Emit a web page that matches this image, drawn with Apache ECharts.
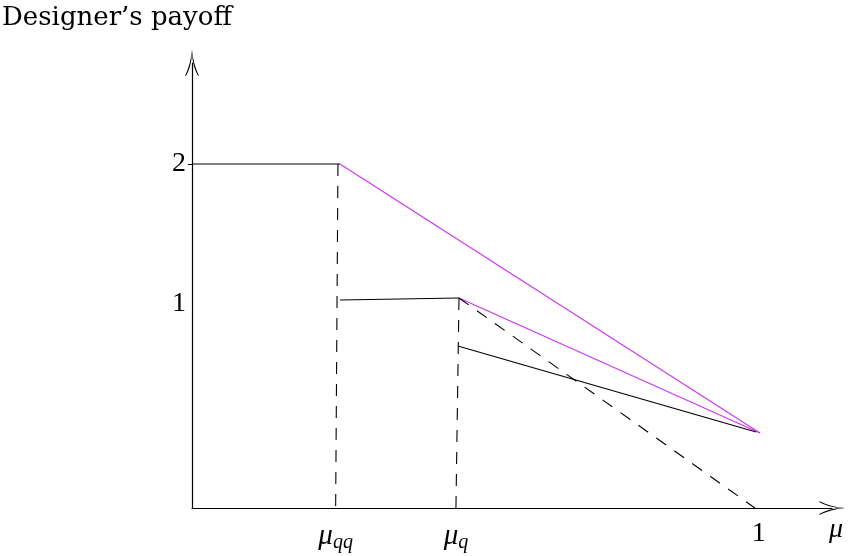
<!DOCTYPE html>
<html>
<head>
<meta charset="utf-8">
<script src="https://cdn.jsdelivr.net/npm/echarts@6/dist/echarts.min.js"></script>
<style>
  html, body { margin: 0; padding: 0; background: #fff; }
  #chart { width: 849px; height: 556px; }
</style>
</head>
<body>
<div id="chart"></div>
<script>
// segments of the payoff picture, [mu, payoff]
const topFlat = [[0, 2], [0.261, 2]];
const magentaHigh = [[0.261, 2], [1.002, 0.436]];
const midFlat = [[0.261, 1.209], [0.471, 1.221]];
const magentaLow = [[0.471, 1.221], [1.002, 0.436]];
const lowerSolid = [[0.469, 0.942], [0.995, 0.442]];
const dashQQ = [[0.2575, 2], [0.2534, 0]];
const dashQ = [[0.471, 1.221], [0.4656, 0]];
const dashDiag = [[0.471, 1.221], [0.993, 0]];

// tick labels
const xTickValues = [0.2534, 0.4656, 1];
const xTickLabels = ['{m|μ}{s|qq}', '{m|μ}{s|q}', '1'];
const yTickValues = [1.19, 2];
const yTickLabels = ['1', '2'];

const serif = 'Liberation Serif';
const magenta = '#cc33ee';

const chart = echarts.init(document.getElementById('chart'));

// open arrow head (curved wings), tip pointing up
const arrowHead = 'path://M0 0 Q1.5 15 7 26 L6.2 26.5 Q0.6 17 0 3 Q-0.6 17 -6.2 26.5 L-7 26 Q-1.5 15 0 0 Z';

function seg(data, color, dashed) {
  return {
    type: 'line',
    data: data,
    symbol: 'none',
    silent: true,
    lineStyle: {
      color: color,
      width: 1.1,
      type: dashed ? [12, 10] : 'solid'
    }
  };
}

chart.setOption({
  animation: false,
  title: {
    text: 'Designer’s payoff',
    left: -3,
    top: 0,
    textStyle: { fontFamily: 'DejaVu Serif', fontWeight: 'normal', fontSize: 26, color: '#000' }
  },
  grid: { left: 192, right: 17, top: 63, bottom: 48, outerBoundsMode: 'none' },
  xAxis: {
    type: 'value',
    min: 0,
    max: 1.129,
    name: 'μ',
    nameLocation: 'end',
    nameGap: -3,
    nameTextStyle: {
      fontFamily: serif, fontStyle: 'italic', fontSize: 28, color: '#000',
      verticalAlign: 'top', align: 'left', padding: [8, 0, 0, 0]
    },
    splitLine: { show: false },
    axisTick: { show: false },
    axisLine: {
      onZero: false,
      symbol: ['none', arrowHead],
      symbolSize: [14, 26],
      lineStyle: { color: '#000', width: 1.2 }
    },
    axisLabel: {
      customValues: xTickValues,
      margin: 12,
      color: '#000',
      fontFamily: serif,
      fontSize: 28,
      formatter: v => xTickLabels[xTickValues.indexOf(v)],
      rich: {
        m: { fontFamily: serif, fontStyle: 'italic', fontSize: 29, color: '#000' },
        s: { fontFamily: serif, fontStyle: 'italic', fontSize: 20, color: '#000', verticalAlign: 'bottom', padding: [13, 0, 0, 0] }
      }
    }
  },
  yAxis: {
    type: 'value',
    min: 0,
    max: 2.587,
    splitLine: { show: false },
    axisTick: {
      customValues: [2],
      length: 4,
      lineStyle: { color: '#000' }
    },
    axisLine: {
      onZero: false,
      symbol: ['none', arrowHead],
      symbolSize: [14, 26],
      lineStyle: { color: '#000', width: 1.2 }
    },
    axisLabel: {
      customValues: yTickValues,
      margin: 6,
      color: '#000',
      fontFamily: serif,
      fontSize: 28,
      formatter: v => yTickLabels[yTickValues.indexOf(v)]
    }
  },
  series: [
    seg(topFlat, '#000'),
    seg(magentaHigh, magenta),
    seg(midFlat, '#000'),
    seg(magentaLow, magenta),
    seg(lowerSolid, '#000'),
    seg(dashQQ, '#000', true),
    seg(dashQ, '#000', true),
    seg(dashDiag, '#000', true)
  ]
});
</script>
</body>
</html>
